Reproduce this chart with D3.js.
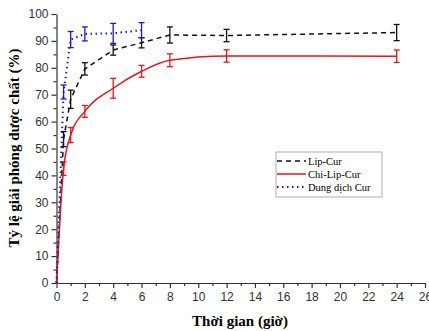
<!DOCTYPE html>
<html>
<head>
<meta charset="utf-8">
<script src="https://cdn.jsdelivr.net/npm/d3@7"></script>
<style>
  body { margin: 0; background: #fff; }
  svg { display: block; }
  .tick text { font-family: "Liberation Sans", Arial, sans-serif; font-size: 12px; fill: #333; }
  .title { font-family: "Liberation Serif", "Times New Roman", serif; font-weight: bold; font-size: 15px; }
  .legend text { font-family: "Liberation Serif", "Times New Roman", serif; font-size: 10.5px; }
</style>
</head>
<body>
<svg id="chart" width="429" height="331"></svg>
<script>
// sampling times (hours)
const timesLip = [0, 0.5, 1, 2, 4, 6, 8, 12, 24];
const valuesLip = [0, 53.5, 68.3, 79.6, 86.6, 89.3, 92.2, 92.0, 93.1];
const errLip = [0, 2.8, 3.4, 2.3, 1.9, 1.9, 3.0, 2.3, 3.0];

const timesChi = [0, 0.5, 1, 2, 4, 6, 8, 12, 24];
const valuesChi = [0, 42.5, 55, 63.8, 72.4, 78.7, 82.8, 84.4, 84.3];
const errChi = [0, 2.5, 2.8, 2.2, 3.7, 2.2, 2.4, 2.3, 2.3];

const timesSol = [0, 0.5, 1, 2, 4, 6];
const valuesSol = [0, 71, 90.5, 92.6, 92.8, 94];
const errSol = [0, 2.6, 3.0, 2.6, 3.7, 2.8];

const xTicks = d3.range(0, 27, 2);
const yTicks = d3.range(0, 101, 10);

const series = [
  { name: 'Lip-Cur', t: timesLip, v: valuesLip, e: errLip, color: '#111', dash: '5,4', width: 1.5, curve: d3.curveLinear },
  { name: 'Chi-Lip-Cur', t: timesChi, v: valuesChi, e: errChi, color: '#e0191e', dash: null, width: 1.5, curve: d3.curveMonotoneX },
  { name: 'Dung dịch Cur', t: timesSol, v: valuesSol, e: errSol, color: '#1a1ad0', dash: '1.5,3.5', width: 2, curve: d3.curveLinear }
];

const svg = d3.select('#chart');
const x = d3.scaleLinear().domain([0, 26]).range([56.5, 425]);
const y = d3.scaleLinear().domain([0, 100]).range([283, 14]);

// minor ticks
svg.append('g')
  .attr('transform', `translate(0,${y(0)})`)
  .call(d3.axisBottom(x).tickValues(d3.range(1, 26, 2)).tickSize(3).tickFormat(''))
  .call(g => g.select('.domain').remove());
svg.append('g')
  .attr('transform', `translate(${x(0)},0)`)
  .call(d3.axisLeft(y).tickValues(d3.range(5, 100, 10)).tickSize(3).tickFormat(''))
  .call(g => g.select('.domain').remove());

svg.append('g')
  .attr('transform', `translate(0,${y(0)})`)
  .call(d3.axisBottom(x).tickValues(xTicks).tickSize(5).tickSizeOuter(0).tickPadding(4));
svg.append('g')
  .attr('transform', `translate(${x(0)},0)`)
  .call(d3.axisLeft(y).tickValues(yTicks).tickSize(5).tickSizeOuter(0).tickPadding(3));

svg.selectAll('.domain, .tick line').attr('stroke', '#333').attr('stroke-width', 1.2);

// lines and error bars
series.forEach(s => {
  const pts = s.t.map((t, i) => [t, s.v[i], s.e[i]]);
  const line = d3.line().x(d => x(d[0])).y(d => y(d[1])).curve(s.curve);
  svg.append('path')
    .datum(pts)
    .attr('d', line)
    .attr('fill', 'none')
    .attr('stroke', s.color)
    .attr('stroke-width', s.width)
    .attr('stroke-dasharray', s.dash);

  const eb = svg.append('g').attr('stroke', s.color).attr('stroke-width', 1.3);
  pts.filter(d => d[2] > 0).forEach(d => {
    const cx = x(d[0]), y1 = y(d[1] + d[2]), y2 = y(d[1] - d[2]);
    eb.append('line').attr('x1', cx).attr('x2', cx).attr('y1', y1).attr('y2', y2);
    eb.append('line').attr('x1', cx - 3).attr('x2', cx + 3).attr('y1', y1).attr('y2', y1);
    eb.append('line').attr('x1', cx - 3).attr('x2', cx + 3).attr('y1', y2).attr('y2', y2);
  });
});

// legend
const lg = svg.append('g').attr('class', 'legend').attr('transform', 'translate(276,152)');
lg.append('rect').attr('width', 106).attr('height', 45)
  .attr('fill', '#fff').attr('stroke', '#999').attr('stroke-width', 0.8);
series.forEach((s, i) => {
  const yy = 9 + i * 13;
  lg.append('line').attr('x1', 1).attr('x2', 30).attr('y1', yy).attr('y2', yy)
    .attr('stroke', s.color).attr('stroke-width', s.width)
    .attr('stroke-dasharray', s.dash);
  lg.append('text').attr('x', 32).attr('y', yy + 4).text(s.name);
});

// titles
svg.append('text').attr('class', 'title')
  .attr('x', 240).attr('y', 326)
  .attr('text-anchor', 'middle')
  .text('Thời gian (giờ)');
svg.append('text').attr('class', 'title')
  .attr('transform', 'translate(19,148) rotate(-90)')
  .attr('text-anchor', 'middle')
  .text('Tỷ lệ giải phóng dược chất (%)');
</script>
</body>
</html>
